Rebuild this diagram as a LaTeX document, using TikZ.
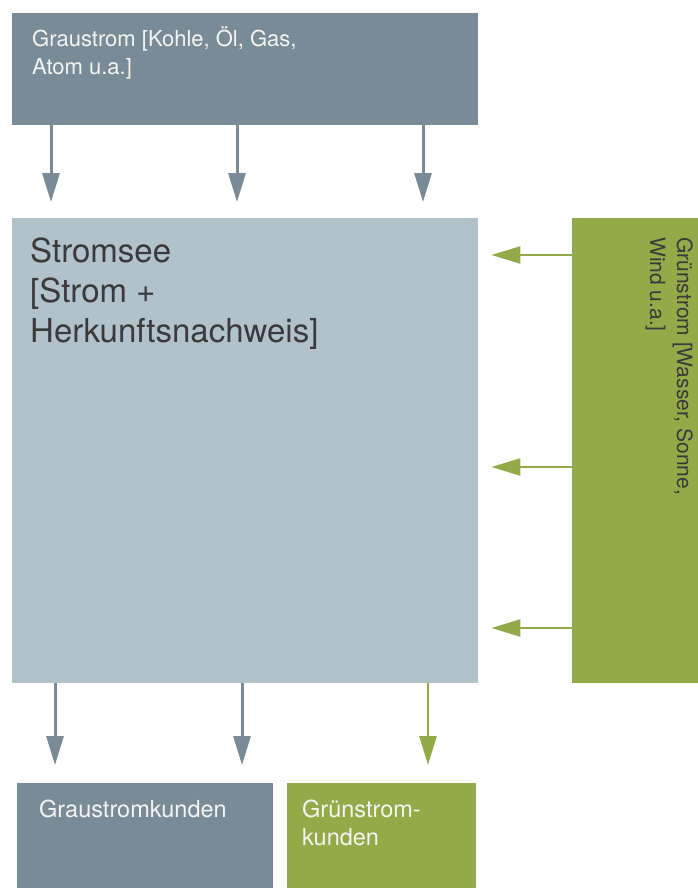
\documentclass[tikz,border=0pt]{standalone}
\usepackage{fontspec}
\setmainfont{TeX Gyre Heros}
\usetikzlibrary{arrows.meta}
\definecolor{grau}{HTML}{798B96}
\definecolor{see}{HTML}{B1C2CB}
\definecolor{gruen}{HTML}{93AA48}
\definecolor{hell}{HTML}{F4F4F0}
\definecolor{dunkel}{HTML}{3A3A3A}
\tikzset{
  feld/.style={rectangle, inner sep=0pt, anchor=north west},
  klein/.style={font=\fontsize{23.5}{28}\selectfont, inner sep=0pt, align=left, anchor=base west},
  gross/.style={font=\fontsize{33}{40}\selectfont, inner sep=0pt, align=left, anchor=base west},
  pfeil/.style={line width=3pt, -{Triangle[length=29pt,width=17pt]}},
}
\begin{document}
\begin{tikzpicture}[x=1pt,y=-1pt]
  \useasboundingbox (0,0) rectangle (698,888);
  \node[feld, fill=grau, minimum width=466pt, minimum height=112pt] (grau) at (12,13) {};
  \node[feld, fill=see, minimum width=466pt, minimum height=465pt] (see) at (12,218) {};
  \node[feld, fill=gruen, minimum width=126pt, minimum height=465pt] (gruen) at (572,218) {};
  \node[feld, fill=grau, minimum width=256pt, minimum height=105pt] (kgrau) at (17,783) {};
  \node[feld, fill=gruen, minimum width=189pt, minimum height=105pt] (kgruen) at (287,783) {};
  \node[klein, text=hell, font=\fontsize{22}{28}\selectfont] (tgrau) at (32,75) {Graustrom [Kohle, Öl, Gas,\\Atom u.a.]};
  \node[gross, text=dunkel] (tsee) at (30,342) {Stromsee\\{[}Strom +\\Herkunftsnachweis]};
  \node[klein, text=dunkel, rotate=-90, font=\fontsize{21}{27}\selectfont] (tgruen) at (650,237) {Grünstrom [Wasser, Sonne,\\Wind u.a.]};
  \node[klein, text=hell] (tkgrau) at (39,817) {Graustromkunden};
  \node[klein, text=hell] (tkgruen) at (302,845) {Grünstrom-\\kunden};
  \begin{scope}[pfeil]
    \foreach \x in {51,237,423}
      \draw[grau, shorten >=16pt] (\x,0 |- grau.south) -- (\x,0 |- see.north);
    \foreach \y in {255,467,628}
      \draw[gruen, line width=2.5pt, shorten >=13pt] (gruen.west |- 0,\y) -- (see.east |- 0,\y);
    \foreach \x in {55,242}
      \draw[grau, shorten >=18pt] (\x,0 |- see.south) -- (\x,0 |- kgrau.north);
    \draw[gruen, line width=2.5pt, shorten >=18pt] (428,0 |- see.south) -- (428,0 |- kgruen.north);
  \end{scope}
\end{tikzpicture}
\end{document}
